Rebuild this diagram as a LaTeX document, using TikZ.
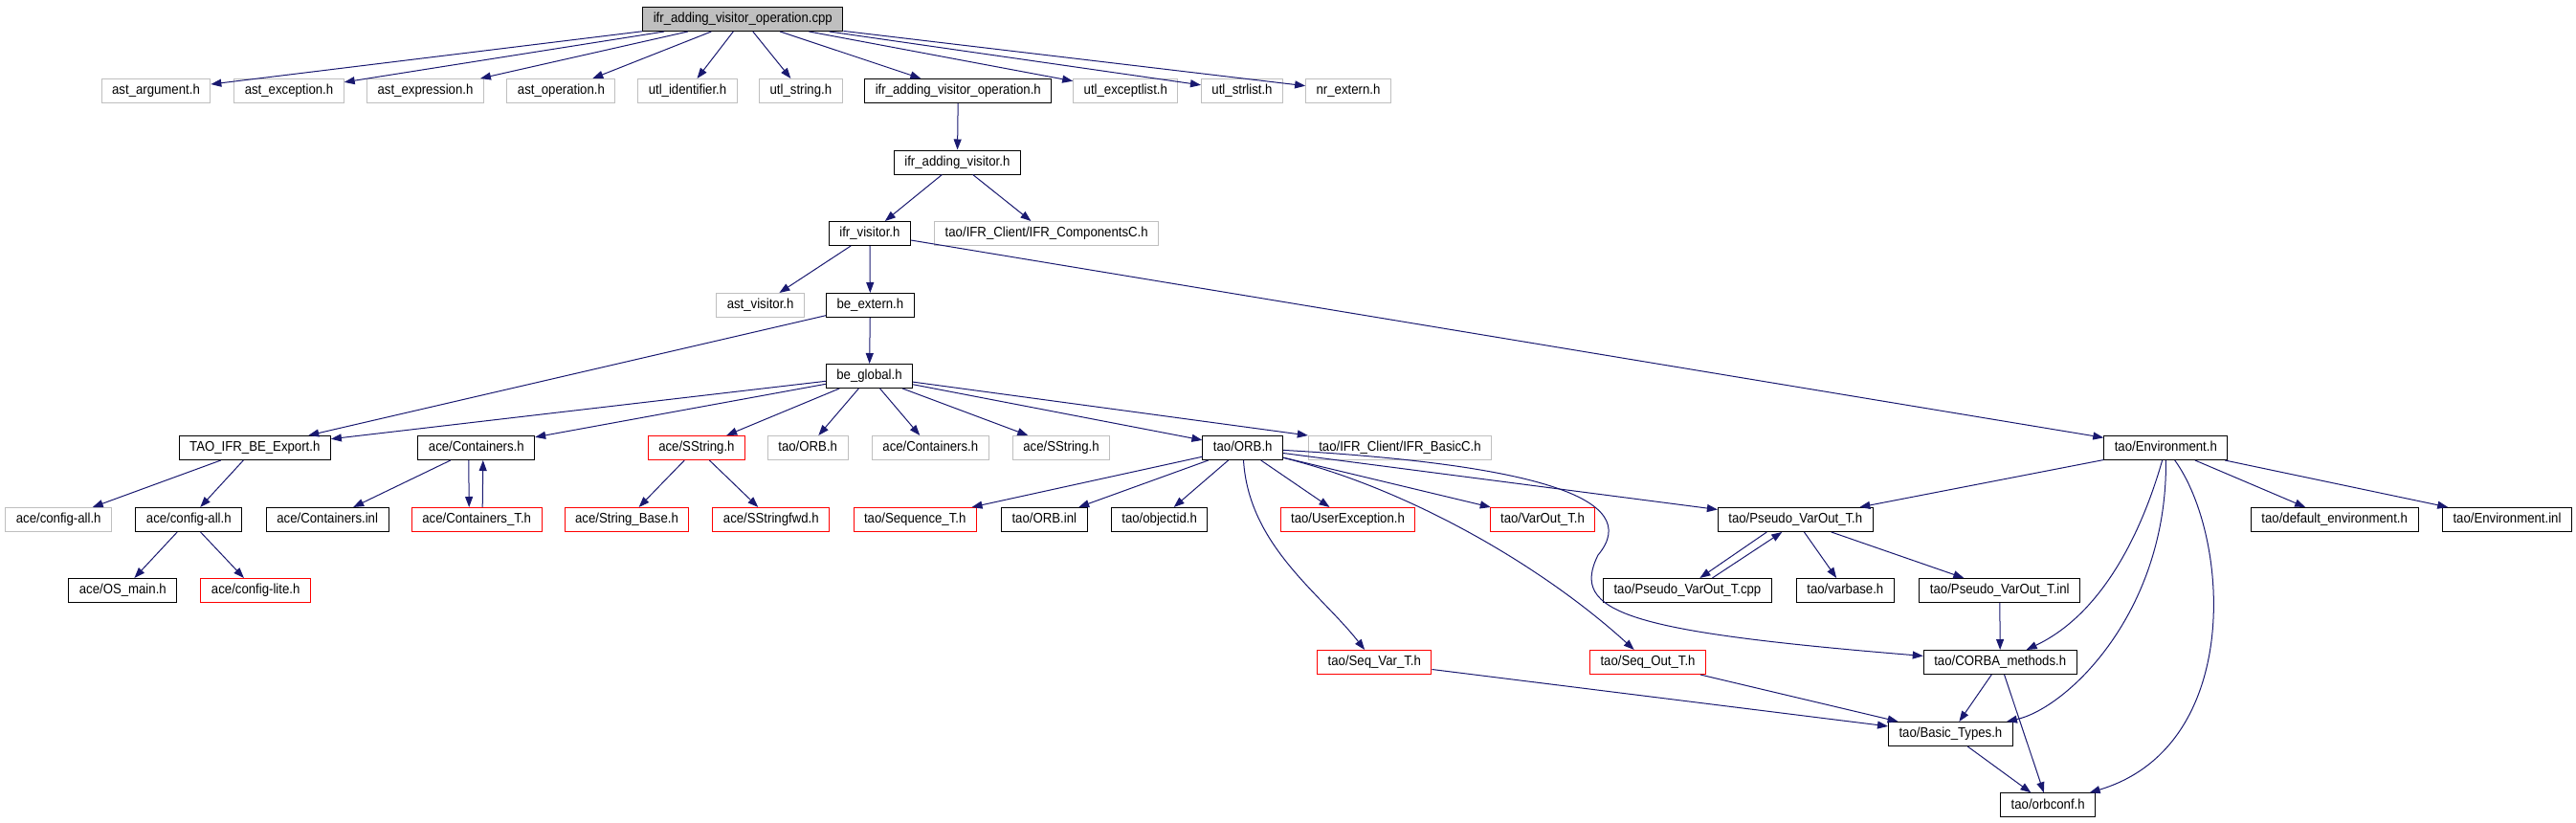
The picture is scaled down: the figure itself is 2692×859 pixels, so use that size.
\documentclass[tikz,border=0pt]{standalone}
\usepackage{fontspec}
\setmainfont{Liberation Sans}
\newfontfamily\hdrfont[FakeStretch=0.91]{Liberation Sans}
\usetikzlibrary{arrows.meta}

\definecolor{inclblue}{HTML}{191970}
\definecolor{hdrgraycol}{HTML}{BFBFBF}

\tikzset{
	hdr/.style={draw=black, line width=1pt, minimum height=25pt, inner xsep=11pt, inner ysep=0pt,
				text height=10.4pt, text depth=3pt, font=\hdrfont\fontsize{14.5}{16}\selectfont},
	hdrgray/.style={hdr, draw=hdrgraycol},
	hdrred/.style={hdr, draw=red},
	hdrroot/.style={hdr, fill=hdrgraycol},
	incl/.style={draw=inclblue, line width=1pt, -{Triangle[length=11pt,width=8pt]}}
}

\begin{document}
\begin{tikzpicture}[x=1pt, y=-1pt]
	\useasboundingbox (0,0) rectangle (2692,859);
	
	% the file itself
	\node [hdrroot] (root) at (776.3,20) {ifr\_adding\_visitor\_operation.cpp};
	
	% first level
	\node [hdrgray] (astarg)  at (163,95)    {ast\_argument.h};
	\node [hdrgray] (astexc)  at (302,95)    {ast\_exception.h};
	\node [hdrgray] (astexpr) at (444.5,95)  {ast\_expression.h};
	\node [hdrgray] (astop)   at (586.4,95)  {ast\_operation.h};
	\node [hdrgray] (utlid)   at (718.5,95)  {utl\_identifier.h};
	\node [hdrgray] (utlstr)  at (836.9,95)  {utl\_string.h};
	\node [hdr]     (ifravoh) at (1001.3,95) {ifr\_adding\_visitor\_operation.h};
	\node [hdrgray] (utlexc)  at (1176.3,95) {utl\_exceptlist.h};
	\node [hdrgray] (utlsl)   at (1298,95)   {utl\_strlist.h};
	\node [hdrgray] (nrext)   at (1409,95)   {nr\_extern.h};
	
	% visitors
	\node [hdr]     (ifrav)   at (1000.4,169.5) {ifr\_adding\_visitor.h};
	\node [hdr]     (ifrv)    at (908.9,244)    {ifr\_visitor.h};
	\node [hdrgray] (ifrcomp) at (1093.7,244)   {tao/IFR\_Client/IFR\_ComponentsC.h};
	\node [hdrgray] (astvis)  at (794.6,319)    {ast\_visitor.h};
	\node [hdr]     (beext)   at (909.4,319)    {be\_extern.h};
	\node [hdr]     (beglob)  at (908.5,393)    {be\_global.h};
	
	% be_global includes
	\node [hdr]     (taoexp)   at (266.3,468)  {TAO\_IFR\_BE\_Export.h};
	\node [hdr]     (acecont)  at (497.8,468)  {ace/Containers.h};
	\node [hdrred]  (acess)    at (727.9,468)  {ace/SString.h};
	\node [hdrgray] (orbg)     at (844.2,468)  {tao/ORB.h};
	\node [hdrgray] (acecontg) at (972.3,468)  {ace/Containers.h};
	\node [hdrgray] (acessg)   at (1109,468)   {ace/SString.h};
	\node [hdr]     (orb)      at (1298.7,468) {tao/ORB.h};
	\node [hdrgray] (ifrbasic) at (1463,468)   {tao/IFR\_Client/IFR\_BasicC.h};
	\node [hdr]     (env)      at (2263.3,468) {tao/Environment.h};
	
	% next row
	\node [hdrgray] (cfgallg) at (61.2,543)   {ace/config-all.h};
	\node [hdr]     (cfgall)  at (197.3,543)  {ace/config-all.h};
	\node [hdr]     (continl) at (342.2,543)  {ace/Containers.inl};
	\node [hdrred]  (contt)   at (498.2,543)  {ace/Containers\_T.h};
	\node [hdrred]  (strbase) at (655,543)    {ace/String\_Base.h};
	\node [hdrred]  (ssfwd)   at (805.8,543)  {ace/SStringfwd.h};
	\node [hdrred]  (seqt)    at (956.2,543)  {tao/Sequence\_T.h};
	\node [hdr]     (orbinl)  at (1091.3,543) {tao/ORB.inl};
	\node [hdr]     (objid)   at (1211.6,543) {tao/objectid.h};
	\node [hdrred]  (userexc) at (1408.5,543) {tao/UserException.h};
	\node [hdrred]  (varout)  at (1612,543)   {tao/VarOut\_T.h};
	\node [hdr]     (pvo)     at (1876.3,543) {tao/Pseudo\_VarOut\_T.h};
	\node [hdr]     (defenv)  at (2439.7,543) {tao/default\_environment.h};
	\node [hdr]     (envinl)  at (2620,543)   {tao/Environment.inl};
	
	% lower rows
	\node [hdr]     (osmain)  at (128.3,617)  {ace/OS\_main.h};
	\node [hdrred]  (cfglite) at (267.2,617)  {ace/config-lite.h};
	\node [hdr]     (pvocpp)  at (1763.4,617) {tao/Pseudo\_VarOut\_T.cpp};
	\node [hdr]     (varbase) at (1928.3,617) {tao/varbase.h};
	\node [hdr]     (pvoinl)  at (2089.8,617) {tao/Pseudo\_VarOut\_T.inl};
	\node [hdrred]  (seqvar)  at (1436.3,692) {tao/Seq\_Var\_T.h};
	\node [hdrred]  (seqout)  at (1722,692)   {tao/Seq\_Out\_T.h};
	\node [hdr]     (corba)   at (2090.2,692) {tao/CORBA\_methods.h};
	\node [hdr]     (basic)   at (2038.4,767) {tao/Basic\_Types.h};
	\node [hdr]     (orbconf) at (2140.2,841.3) {tao/orbconf.h};
	
	% includes of the .cpp
	\draw [incl] (root) -- (astarg);
	\draw [incl] (root) -- (astexc);
	\draw [incl] (root) -- (astexpr);
	\draw [incl] (root) -- (astop);
	\draw [incl] (root) -- (utlid);
	\draw [incl] (root) -- (utlstr);
	\draw [incl] (root) -- (ifravoh);
	\draw [incl] (root) -- (utlexc);
	\draw [incl] (root) -- (utlsl);
	\draw [incl] (root) -- (nrext);
	
	\draw [incl] (ifravoh) -- (ifrav);
	\draw [incl] (ifrav) -- (ifrv);
	\draw [incl] (ifrav) -- (ifrcomp);
	\draw [incl] (ifrv) -- (astvis);
	\draw [incl] (ifrv) -- (beext);
	\draw [incl] (ifrv) -- (env);
	\draw [incl] (beext) -- (beglob);
	\draw [incl] (beext) -- (taoexp);
	
	% be_global
	\draw [incl] (beglob) -- (taoexp);
	\draw [incl] (beglob) -- (acecont);
	\draw [incl] (beglob) -- (acess);
	\draw [incl] (beglob) -- (orbg);
	\draw [incl] (beglob) -- (acecontg);
	\draw [incl] (beglob) -- (acessg);
	\draw [incl] (beglob) -- (orb);
	\draw [incl] (beglob) -- (ifrbasic);
	
	% ace side
	\draw [incl] (taoexp) -- (cfgallg);
	\draw [incl] (taoexp) -- (cfgall);
	\draw [incl] (cfgall) -- (osmain);
	\draw [incl] (cfgall) -- (cfglite);
	\draw [incl] (acecont) -- (continl);
	\draw [incl] ([xshift=-8pt]acecont.south) -- ([xshift=-8pt]contt.north);
	\draw [incl] ([xshift=6pt]contt.north) -- ([xshift=7pt]acecont.south);
	\draw [incl] (acess) -- (strbase);
	\draw [incl] (acess) -- (ssfwd);
	
	% tao/ORB.h
	\draw [incl] (orb) -- (seqt);
	\draw [incl] (orb) -- (orbinl);
	\draw [incl] (orb) -- (objid);
	\draw [incl] (orb) -- (userexc);
	\draw [incl] (orb) -- (varout);
	\draw [incl] (orb) -- (pvo);
	\draw [incl] (orb) .. controls (1305,570) and (1380,620) .. (seqvar);
	\draw [incl] (orb) .. controls (1470,510) and (1610,590) .. (seqout);
	\draw [incl] (orb) .. controls (1600,485) and (1720,520) .. (1670,580)
					   .. controls (1640,640) and (1700,660) .. (corba);
	
	% tao/Environment.h
	\draw [incl] (env) -- (pvo);
	\draw [incl] (env) -- (defenv);
	\draw [incl] (env) -- (envinl);
	\draw [incl] (env) .. controls (2240,550) and (2200,640) .. (corba);
	\draw [incl] (env) .. controls (2265,640) and (2160,740) .. (basic);
	\draw [incl] (env) .. controls (2330,560) and (2345,780) .. (orbconf);
	
	% pseudo var/out
	\draw [incl] ([xshift=-30pt]pvo.south) -- ([xshift=13pt]pvocpp.north);
	\draw [incl] ([xshift=26pt]pvocpp.north) -- ([xshift=-14pt]pvo.south);
	\draw [incl] (pvo) -- (varbase);
	\draw [incl] (pvo) -- (pvoinl);
	\draw [incl] (pvoinl) -- (corba);
	
	% basic types
	\draw [incl] (corba) -- (basic);
	\draw [incl] (corba) -- (orbconf);
	\draw [incl] (seqvar) -- (basic);
	\draw [incl] (seqout) -- (basic);
	\draw [incl] (basic) -- (orbconf);
\end{tikzpicture}
\end{document}
